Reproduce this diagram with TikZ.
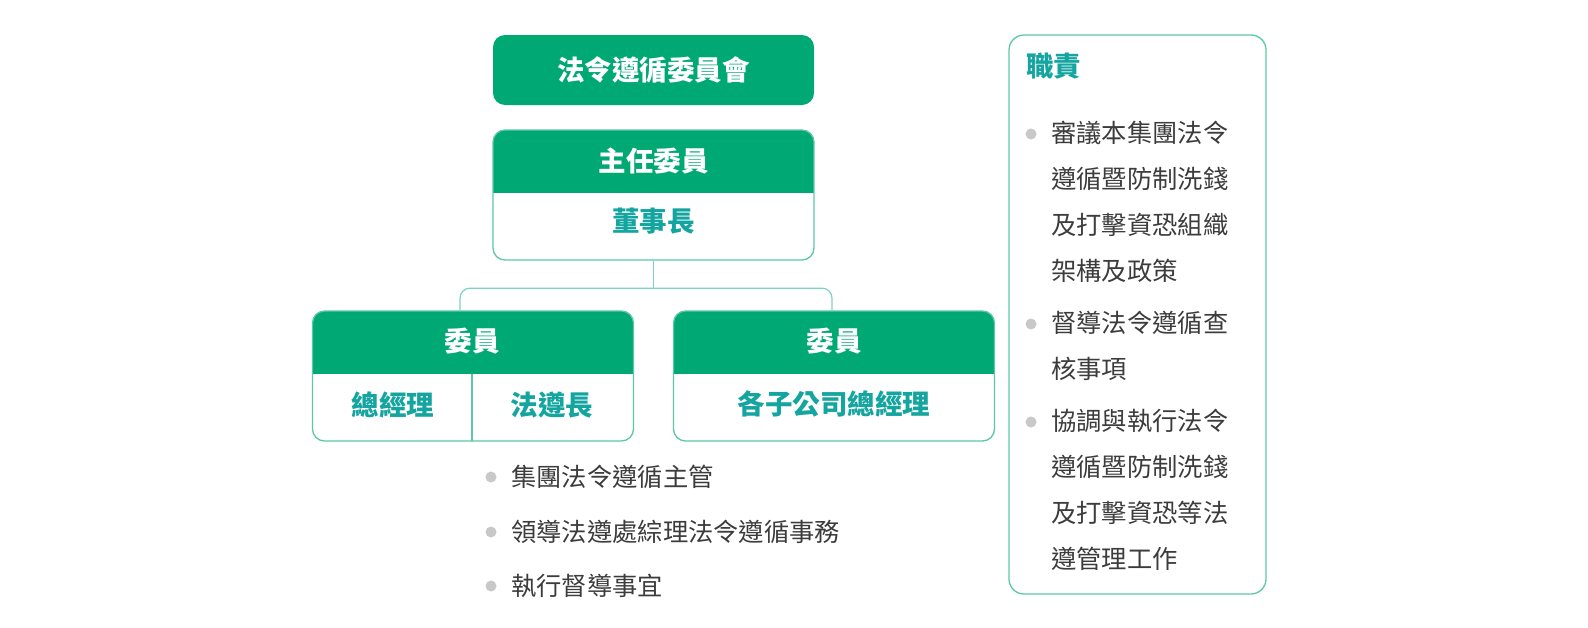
\documentclass[tikz,border=0pt]{standalone}
\usepackage{fontspec}
\setmainfont{Noto Sans CJK TC}
\usepackage{xcolor}
\usetikzlibrary{arrows.meta,positioning}

\definecolor{hdgreen}{HTML}{00A874}
\definecolor{tealtxt}{HTML}{14A5A0}
\definecolor{boxline}{HTML}{5CC8A8}
\definecolor{linkline}{HTML}{7FD0C8}
\definecolor{dotgray}{HTML}{C8C8C8}
\definecolor{bodytxt}{HTML}{3C3C3C}

\begin{document}
\begin{tikzpicture}[
x=1pt, y=-1pt,
council/.style={fill=hdgreen, rounded corners=12pt, minimum width=321pt, minimum height=70pt, inner sep=0pt},
hdrbox/.style={draw=boxline, line width=1.3pt, rounded corners=12pt, fill=white, minimum width=321pt, minimum height=130pt, inner sep=0pt,
  path picture={\fill[hdgreen, sharp corners] (path picture bounding box.north west) rectangle ([yshift=-63pt]path picture bounding box.north east);}},
hdtxt/.style={text=white, font=\fontsize{27.5}{30}\selectfont\bfseries, inner sep=0pt},
roletxt/.style={text=tealtxt, font=\fontsize{27.5}{30}\selectfont\bfseries, inner sep=0pt},
item/.style={text=bodytxt, font=\fontsize{25.3}{46}\selectfont, inner sep=0pt, align=left},
dot/.style={circle, fill=dotgray, minimum size=11pt, inner sep=0pt},
link/.style={draw=linkline, line width=1.2pt, rounded corners=10pt}
]
\useasboundingbox (0,0) rectangle (1588,627);

\node[council] (council) at (653.5,70) {};
\node[hdtxt] at (council) {法令遵循委員會};

\node[hdrbox] (chair) at (653.5,195) {};
\node[hdtxt] (chairhd) at (653.5,161) {主任委員};
\node[roletxt] (chairname) at (653.5,221) {董事長};

\node[hdrbox] (memberA) at (473,376) {};
\node[hdtxt] at (472,341) {委員};
\node[roletxt] (gm) at (393,405) {總經理};
\node[roletxt] (cco) at (552,405) {法遵長};
\draw[draw=boxline, line width=1.3pt] (472,374) -- (472,441);

\node[hdrbox] (memberB) at (834,376) {};
\node[hdtxt] at (834,341) {委員};
\node[roletxt] (subgm) at (834,404) {各子公司總經理};

\draw[link] (chair.south) -- ++(0,27.5) coordinate (fork);
\draw[link] ([xshift=-13pt]memberA.north) |- (fork) -| ([xshift=-2pt]memberB.north);

\node[dot] (d1) at (491,477) {};
\node[item, anchor=west] (t1) at (511,477) {集團法令遵循主管};
\node[dot] (d2) at (491,532) {};
\node[item, anchor=west] (t2) at (511,532) {領導法遵處綜理法令遵循事務};
\node[dot] (d3) at (491,586) {};
\node[item, anchor=west] (t3) at (511,586) {執行督導事宜};

\node[draw=boxline, line width=1.3pt, rounded corners=15pt, minimum width=257pt, minimum height=559pt] (duties) at (1137.5,314.5) {};
\node[roletxt, anchor=west] (dutyhd) at (1026,66) {職責};
\node[dot] (e1) at (1031,134) {};
\node[item, anchor=north west] (u1) at (1051,121) {審議本集團法令\\遵循暨防制洗錢\\及打擊資恐組織\\架構及政策};
\node[dot] (e2) at (1031,324) {};
\node[item, anchor=north west] (u2) at (1051,311) {督導法令遵循查\\核事項};
\node[dot] (e3) at (1031,422) {};
\node[item, anchor=north west] (u3) at (1051,409) {協調與執行法令\\遵循暨防制洗錢\\及打擊資恐等法\\遵管理工作};
\end{tikzpicture}
\end{document}
